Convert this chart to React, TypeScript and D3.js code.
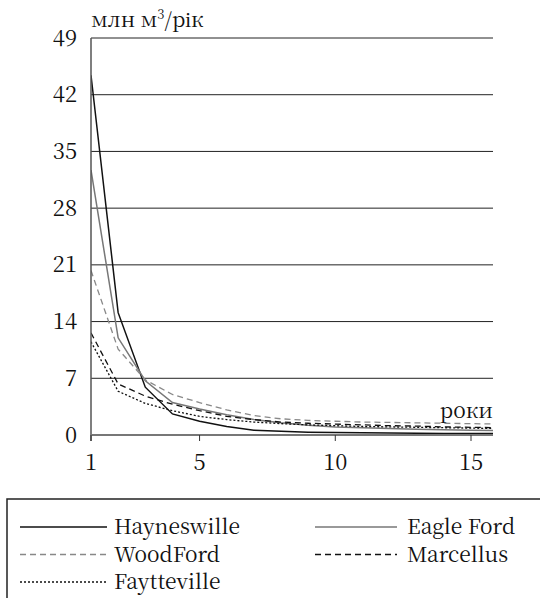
import React from "react";
import * as d3 from "d3";

const years = [1, 2, 3, 4, 5, 6, 7, 8, 9, 10, 11, 12, 13, 14, 15, 16];
const hayneswille = [44.4, 15.1, 5.9, 2.6, 1.7, 1.05, 0.6, 0.45, 0.35, 0.3, 0.28, 0.25, 0.22, 0.2, 0.2, 0.18];
const eagleFord = [32.7, 12.0, 6.7, 4.0, 3.2, 2.5, 1.9, 1.5, 1.2, 1.0, 0.9, 0.8, 0.7, 0.65, 0.6, 0.55];
const woodFord = [20.3, 10.6, 6.8, 5.0, 4.0, 3.1, 2.4, 2.0, 1.8, 1.7, 1.6, 1.55, 1.5, 1.45, 1.4, 1.35];
const marcellus = [12.6, 6.3, 4.8, 3.8, 3.0, 2.3, 1.9, 1.6, 1.45, 1.35, 1.25, 1.15, 1.1, 1.0, 0.95, 0.9];
const faytteville = [11.5, 5.4, 3.9, 3.0, 2.3, 1.9, 1.6, 1.4, 1.25, 1.15, 1.05, 1.0, 0.95, 0.9, 0.85, 0.8];

const seriesNames = ["Hayneswille", "Eagle Ford", "WoodFord", "Marcellus", "Faytteville"];
const seriesValues = [hayneswille, eagleFord, woodFord, marcellus, faytteville];
const yTicks = [0, 7, 14, 21, 28, 35, 42, 49];
const xTicks = [1, 5, 10, 15];
const yTitle = "млн м";
const yTitleSup = "3";
const yTitleEnd = "/рік";
const xTitle = "роки";

const styles = [
  { stroke: "#111", dash: "", width: 1.5 },
  { stroke: "#777", dash: "", width: 1.5 },
  { stroke: "#888", dash: "6,4", width: 1.3 },
  { stroke: "#111", dash: "6,4", width: 1.3 },
  { stroke: "#111", dash: "2,2", width: 1.3 },
];

const tStyle = { fontFamily: '"Noto Serif CJK SC"' };

export default function App() {
  const left = 91;
  const right = 493;
  const top = 38;
  const bottom = 435;
  const x = d3.scaleLinear().domain([1, 15]).range([left, 471]);
  const y = d3.scaleLinear().domain([0, 49]).range([bottom, top]);
  const line = d3
    .line<number>()
    .x((_, i) => x(years[i]))
    .y((d) => y(d));

  const legendRows = [
    { name: seriesNames[0], s: styles[0], col: 0, row: 0 },
    { name: seriesNames[1], s: styles[1], col: 1, row: 0 },
    { name: seriesNames[2], s: styles[2], col: 0, row: 1 },
    { name: seriesNames[3], s: styles[3], col: 1, row: 1 },
    { name: seriesNames[4], s: styles[4], col: 0, row: 2 },
  ];

  return (
    <svg width={540} height={598} style={{ position: "absolute", left: 0, top: 0 }}>
      <defs>
        <clipPath id="plot">
          <rect x={left} y={0} width={right - left} height={bottom} />
        </clipPath>
      </defs>
      {yTicks.map((t) =>
        t === 0 ? null : (
          <line key={t} x1={left} x2={right} y1={y(t)} y2={y(t)} stroke="#222" strokeWidth={1} />
        )
      )}
      {yTicks.map((t) => (
        <text key={"l" + t} style={tStyle} x={77} y={y(t) + 7.5} textAnchor="end" fontSize={22} fill="#111">
          {t}
        </text>
      ))}
      <g clipPath="url(#plot)">
        {seriesValues.map((vals, i) => (
          <path
            key={i}
            d={line(vals) || ""}
            fill="none"
            stroke={styles[i].stroke}
            strokeWidth={styles[i].width}
            strokeDasharray={styles[i].dash}
          />
        ))}
      </g>
      <line x1={left} x2={left} y1={top} y2={bottom + 6} stroke="#555" strokeWidth={1.5} />
      <line x1={left} x2={right} y1={bottom} y2={bottom} stroke="#777" strokeWidth={2} />
      {xTicks.map((t) => (
        <g key={"x" + t}>
          <line x1={x(t)} x2={x(t)} y1={bottom} y2={bottom + 6} stroke="#333" strokeWidth={1} />
          <text style={tStyle} x={x(t)} y={470} textAnchor="middle" fontSize={22} fill="#111">
            {t}
          </text>
        </g>
      ))}
      <text style={tStyle} x={left} y={27} fontSize={21} fill="#111">
        {yTitle}
        <tspan fontSize={13} dy={-8}>{yTitleSup}</tspan>
        <tspan dy={8}>{yTitleEnd}</tspan>
      </text>
      <text style={tStyle} x={right} y={418} textAnchor="end" fontSize={21} fill="#111">
        {xTitle}
      </text>
      <rect x={7} y={499} width={600} height={200} fill="none" stroke="#222" strokeWidth={1.5} />
      {legendRows.map((r, i) => {
        const lx = r.col === 0 ? 20 : 315;
        const ly = 527 + r.row * 27.5;
        return (
          <g key={"lg" + i}>
            <line
              x1={lx}
              x2={lx + (r.col === 0 ? 87 : 82)}
              y1={ly}
              y2={ly}
              stroke={r.s.stroke}
              strokeWidth={r.s.width}
              strokeDasharray={r.s.dash}
            />
            <text style={tStyle} x={r.col === 0 ? 114 : 407} y={ly + 7} fontSize={21} fill="#111">
              {r.name}
            </text>
          </g>
        );
      })}
    </svg>
  );
}
